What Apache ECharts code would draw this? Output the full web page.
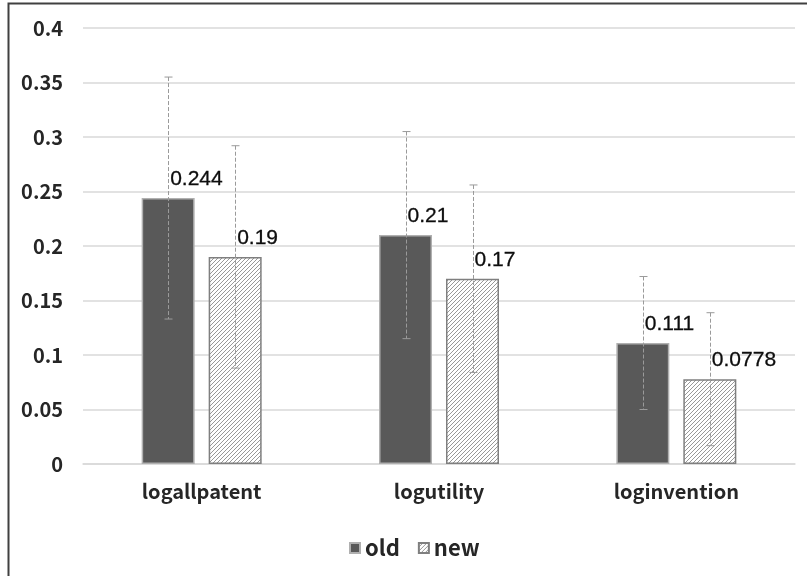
<!DOCTYPE html>
<html>
<head>
<meta charset="utf-8">
<script src="https://cdn.jsdelivr.net/npm/echarts@6/dist/echarts.min.js"></script>
<style>
  html, body { margin: 0; padding: 0; background: #fff; }
  #chart { width: 807px; height: 576px; }
</style>
</head>
<body>
<div id="chart"></div>
<script>
// Categories and values
const categories = ['logallpatent', 'logutility', 'loginvention'];
const oldValues = [0.244, 0.21, 0.111];
const newValues = [0.19, 0.17, 0.0778];
// Error half-widths (±)
const oldErrors = [0.111, 0.095, 0.061];
const newErrors = [0.102, 0.086, 0.061];
// Y-axis ticks
const yMin = 0, yMax = 0.4, yStep = 0.05;

const BAR_W = 53, BAR_GAP = 14;

// Diagonal hatch fill for the "new" series
function hatchPattern() {
  const c = document.createElement('canvas');
  c.width = 4; c.height = 4;
  const g = c.getContext('2d');
  g.fillStyle = '#ffffff';
  g.fillRect(0, 0, 4, 4);
  g.strokeStyle = '#8c8c8c';
  g.lineWidth = 0.9;
  g.beginPath();
  g.moveTo(0, 4); g.lineTo(4, 0);
  g.moveTo(-1, 1); g.lineTo(1, -1);
  g.moveTo(3, 5); g.lineTo(5, 3);
  g.stroke();
  return c;
}

const errData = [];
categories.forEach((c, i) => {
  errData.push([i, oldValues[i], oldErrors[i], -1]);
  errData.push([i, newValues[i], newErrors[i], 1]);
});

function renderErr(params, api) {
  const i = api.value(0), v = api.value(1), e = api.value(2), side = api.value(3);
  const dx = side * (BAR_W + BAR_GAP) / 2;
  const top = api.coord([i, v + e]);
  const bot = api.coord([i, v - e]);
  const x = Math.round(top[0] + dx) + 0.5;
  const style = { stroke: '#9a9a9a', lineWidth: 1 };
  return {
    type: 'group',
    children: [
      { type: 'line', shape: { x1: x, y1: top[1], x2: x, y2: bot[1] }, style: Object.assign({ lineDash: [4, 2] }, style) },
      { type: 'line', shape: { x1: x - 4, y1: top[1], x2: x + 4, y2: top[1] }, style: style },
      { type: 'line', shape: { x1: x - 4, y1: bot[1], x2: x + 4, y2: bot[1] }, style: style }
    ]
  };
}

const labelStyle = {
  show: true,
  position: ['50%', -29],
  offset: [2, 0],
  formatter: p => String(p.value),
  fontSize: 21,
  color: '#0d0d0d',
  textBorderColor: '#0d0d0d',
  textBorderWidth: 0.3,
  fontFamily: 'Liberation Sans, Arial, sans-serif'
};

const axisFont = 'Noto Sans CJK SC, sans-serif';

const chart = echarts.init(document.getElementById('chart'), null, { renderer: 'canvas' });
chart.setOption({
  backgroundColor: '#ffffff',
  animation: false,
  graphic: [{
    type: 'rect',
    shape: { x: 8.5, y: 3.5, width: 900, height: 700 },
    style: { fill: 'none', stroke: '#404040', lineWidth: 2 },
    silent: true
  }],
  grid: { left: 83, right: 12, top: 28, bottom: 112 },
  legend: {
    bottom: 12,
    left: 344,
    itemWidth: 10,
    itemHeight: 10,
    itemGap: 18,
    icon: 'rect',
    textStyle: { fontSize: 22, color: '#262626', fontWeight: 'bold', fontFamily: axisFont },
    data: ['old', 'new']
  },
  xAxis: {
    type: 'category',
    data: categories,
    axisTick: { show: false },
    axisLine: { lineStyle: { color: '#d9d9d9', width: 1.5 } },
    axisLabel: { fontSize: 20, color: '#262626', fontWeight: 'bold', margin: 17, fontFamily: axisFont }
  },
  yAxis: {
    type: 'value',
    min: yMin, max: yMax, interval: yStep,
    axisLine: { show: false },
    axisTick: { show: false },
    splitLine: { lineStyle: { color: '#d9d9d9', width: 1.5 } },
    axisLabel: { fontSize: 20, color: '#262626', fontWeight: 'bold', margin: 20, fontFamily: axisFont }
  },
  series: [
    {
      name: 'old', type: 'bar', data: oldValues,
      barWidth: BAR_W, barGap: (BAR_GAP / BAR_W * 100) + '%',
      itemStyle: { color: '#595959', borderColor: '#b0b0b0', borderWidth: 1.5 },
      label: labelStyle, z: 2
    },
    {
      name: 'new', type: 'bar', data: newValues,
      barWidth: BAR_W,
      itemStyle: { color: { image: hatchPattern(), repeat: 'repeat' }, borderColor: '#7f7f7f', borderWidth: 1.5 },
      label: labelStyle, z: 2
    },
    {
      name: 'errors', type: 'custom', data: errData, renderItem: renderErr,
      z: 3, silent: true
    }
  ]
});
</script>
</body>
</html>
